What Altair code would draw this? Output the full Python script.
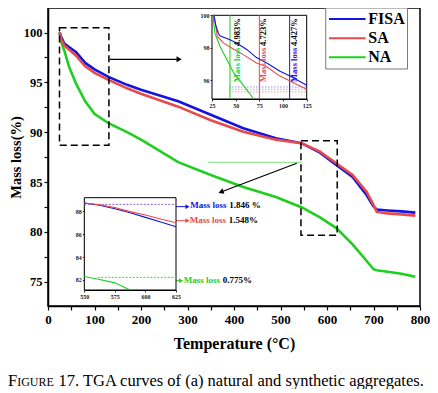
import altair as alt
import pandas as pd

# ---------------- data ----------------
SERIES = ["FISA", "SA", "NA"]
COLORS = ["#1414dc", "#e84a4c", "#1fcf1f"]

T_MAIN = [25, 28, 35, 45, 60, 80, 100, 130, 170, 200, 280, 350, 420, 490, 545,
          585, 620, 655, 685, 700, 707, 730, 760, 790]
FISA_MAIN = [100, 99.6, 98.9, 98.55, 98.05, 96.95, 96.3, 95.55, 94.75, 94.25, 93.1,
             91.75, 90.4, 89.4, 88.9, 87.95, 86.7, 85.5, 83.7, 82.55, 82.25, 82.15,
             82.05, 81.93]
SA_MAIN = [100, 99.4, 98.7, 98.3, 97.7, 96.6, 95.95, 95.25, 94.4, 93.85, 92.56,
           91.2, 90.05, 89.25, 88.9, 88.05, 86.88, 85.7, 84.03, 82.7, 82.0, 81.85,
           81.75, 81.63]
NA_MAIN = [100, 99.1, 98.2, 96.6, 94.9, 93.1, 91.85, 90.9, 90.0, 89.25, 87.0,
           85.7, 84.5, 83.5, 82.47, 81.46, 80.38, 78.75, 77.1, 76.25, 76.15, 76.0,
           75.8, 75.5]

# inset 1 (25-125 C)
IN1_FISA_T = [27, 29, 31.7, 33.4, 44, 51, 61.6, 72, 82.8, 96.8, 107.4, 125]
IN1_FISA_V = [100, 99.4, 98.9, 98.74, 98.5, 98.3, 97.9, 97.4, 97.07, 96.56, 96.26, 95.7]
IN1_SA_T = [27, 29, 30.6, 37, 47.5, 58, 72, 82.8, 96.8, 110.9, 125]
IN1_SA_V = [100, 99.3, 98.7, 98.3, 97.93, 97.58, 97.07, 96.83, 96.26, 95.85, 95.45]
IN1_NA_T = [26, 28, 33.4, 40.5, 47.5, 58, 68.6]
IN1_NA_V = [100, 98.9, 98.1, 97.3, 96.5, 95.7, 94.88]
IN1_MARK_T = [44, 75, 107]            # NA, SA, FISA markers
IN1_LEVELS = [95.59, 95.45, 95.29]
IN1_TEXT_X = [51.4, 78.9, 111.6]
IN1_LOSS = ["4.983%", "4.723%", "4.427%"]

# inset 2 (550-625 C)
IN2_T = [550, 562.5, 575, 587.5, 600, 612.5, 625]
IN2_FISA_V = [88.7, 88.5, 88.2, 87.85, 87.45, 87.05, 86.63]
IN2_SA_V = [88.7, 88.55, 88.3, 87.95, 87.65, 87.3, 86.98]
IN2_NA_T = [550, 562.5, 575, 587]
IN2_NA_V = [82.3, 82.05, 81.75, 81.15]
IN2_LOSS = ["1.846 %", "1.548%", "0.775%"]   # FISA, SA, NA

X_TICKS = list(range(0, 801, 50))
Y_TICKS = [75 + 2.5 * i for i in range(11)]
IN1_X_TICKS = [25, 50, 75, 100, 125]
IN1_Y_TICKS = [96, 98, 100]
IN2_X_TICKS = [550, 575, 600, 625]
IN2_Y_TICKS = [82, 84, 86, 88]

CAPTION_F = "F"
CAPTION_IGURE = "IGURE"
CAPTION_REST = "17. TGA curves of (a) natural and synthetic aggregates."

FONT = "Liberation Serif"
W, H = 372, 298
PAD_L = 40

# ---------------- main scales ----------------
sx = alt.Scale(domain=[0, 800], nice=False, zero=False)
sy = alt.Scale(domain=[72.56, 102.46], nice=False, zero=False)
ax_x = alt.Axis(values=X_TICKS, labelExpr="datum.value % 100 == 0 ? datum.label : ''",
                title="Temperature (°C)", grid=False, orient="bottom",
                labelFont=FONT, labelFontWeight="bold", labelFontSize=13, labelColor="black",
                titleFont=FONT, titleFontWeight="bold", titleFontSize=16, titleColor="black",
                titlePadding=9, tickSize=4, tickColor="black", tickWidth=1.2,
                domainColor="black", domainWidth=1.5, labelPadding=3,
                labelFlush=False, labelOverlap=False)
ax_y = alt.Axis(values=Y_TICKS, labelExpr="datum.value % 5 == 0 ? datum.label : ''",
                title="Mass loss(%)", grid=False, orient="left",
                labelFont=FONT, labelFontWeight="bold", labelFontSize=12.5, labelColor="black",
                titleFont=FONT, titleFontWeight="bold", titleFontSize=14.5, titleColor="black",
                titlePadding=0, tickSize=4, tickColor="black", tickWidth=1.2,
                domainColor="black", domainWidth=1.5, labelPadding=2,
                labelFlush=False, labelOverlap=False)


def MX(f):
    return alt.X(f, type="quantitative", scale=sx, axis=ax_x)


def MY(f):
    return alt.Y(f, type="quantitative", scale=sy, axis=ax_y)


n = len(T_MAIN)
main_long = pd.DataFrame({
    "T": T_MAIN * 3,
    "v": FISA_MAIN + SA_MAIN + NA_MAIN,
    "s": ["FISA"] * n + ["SA"] * n + ["NA"] * n,
})
cmap = dict(zip(SERIES, COLORS))

main_layers = []
for s in ["NA", "FISA", "SA"]:
    main_layers.append(
        alt.Chart(main_long).transform_filter(alt.datum.s == s)
        .mark_line(color=cmap[s], strokeWidth=2.6)
        .encode(x=MX("T"), y=MY("v"))
    )

# dashed zoom boxes
boxes = pd.DataFrame({"x0": [24.7, 544], "x1": [131, 622],
                      "y0": [88.7, 79.66], "y1": [100.48, 89.15]})
main_layers.append(
    alt.Chart(boxes).mark_rect(fillOpacity=0, stroke="black", strokeWidth=1.5,
                               strokeDash=[7, 4])
    .encode(x=MX("x0"), x2="x1", y=MY("y0"), y2="y1")
)

# green guide line
gline = pd.DataFrame({"x0": [343.6], "x1": [545.8], "y": [86.98]})
main_layers.append(
    alt.Chart(gline).mark_rule(color="#7fe07f", strokeWidth=1)
    .encode(x=MX("x0"), x2="x1", y=MY("y"))
)

# black arrows
arrows = pd.DataFrame({"x0": [132.5, 535], "y0": [97.31, 86.88],
                       "x1": [282, 372], "y1": [97.31, 84.0], "ang": [90, 249]})
main_layers.append(
    alt.Chart(arrows).mark_rule(color="black", strokeWidth=1.2)
    .encode(x=MX("x0"), y=MY("y0"), x2="x1", y2="y1")
)
main_layers.append(
    alt.Chart(arrows).mark_point(shape="triangle-up", filled=True, color="black",
                                 size=35, opacity=1)
    .encode(x=MX("x1"), y=MY("y1"), angle=alt.Angle("ang:Q", scale=None))
)

# inset-2 annotation arrows and texts
ann = pd.DataFrame({
    "x0": [260, 267, 242], "x1": [300, 300, 286], "y": [82.53, 81.12, 75.1],
    "xt": [306, 305, 292], "yt": [82.70, 81.19, 75.12],
    "c": [COLORS[0], COLORS[1], COLORS[2]], "num": IN2_LOSS,
})
main_layers.append(
    alt.Chart(ann).mark_rule(strokeWidth=1)
    .encode(x=MX("x0"), x2="x1", y=MY("y"), color=alt.Color("c:N", scale=None))
)
main_layers.append(
    alt.Chart(ann).mark_point(shape="triangle-right", filled=True, size=22, opacity=1)
    .encode(x=MX("x1"), y=MY("y"), color=alt.Color("c:N", scale=None))
)
main_layers.append(
    alt.Chart(ann).mark_text(text="Mass loss", align="left", baseline="middle",
                             font=FONT, fontWeight="bold", fontSize=9)
    .encode(x=MX("xt"), y=MY("yt"), color=alt.Color("c:N", scale=None))
)
main_layers.append(
    alt.Chart(ann).mark_text(align="left", baseline="middle", dx=39, color="black",
                             font=FONT, fontWeight="bold", fontSize=9)
    .encode(x=MX("xt"), y=MY("yt"), text="num:N")
)

# legend (box, line samples, labels)
leg_box = pd.DataFrame({"x0": [597.3], "x1": [773.2], "y0": [96.34], "y1": [102.46]})
leg = pd.DataFrame({"x0": [604.3] * 3, "x1": [683] * 3, "xt": [688.8] * 3,
                    "y": [101.35, 99.42, 97.51], "c": COLORS, "s": SERIES})
main_layers.append(
    alt.Chart(leg_box).mark_rect(fill="white", stroke="#777777", strokeWidth=1)
    .encode(x=MX("x0"), x2="x1", y=MY("y0"), y2="y1")
)
main_layers.append(
    alt.Chart(leg).mark_rule(strokeWidth=2)
    .encode(x=MX("x0"), x2="x1", y=MY("y"), color=alt.Color("c:N", scale=None))
)
main_layers.append(
    alt.Chart(leg).mark_text(align="left", baseline="middle", color="black",
                             font=FONT, fontWeight="bold", fontSize=16)
    .encode(x=MX("xt"), y=MY("y"), text="s:N")
)

# caption (small caps "FIGURE")
cap = pd.DataFrame({"a": [CAPTION_F], "b": [CAPTION_IGURE], "c": [CAPTION_REST]})
main_layers.append(
    alt.Chart(cap).mark_text(align="left", baseline="alphabetic", font=FONT,
                             fontSize=16.5, color="black")
    .encode(x=alt.value(-40), y=alt.value(378), text="a:N")
)
main_layers.append(
    alt.Chart(cap).mark_text(align="left", baseline="alphabetic", font=FONT,
                             fontSize=12, color="black")
    .encode(x=alt.value(-30.8), y=alt.value(378), text="b:N")
)
main_layers.append(
    alt.Chart(cap).mark_text(align="left", baseline="alphabetic", font=FONT,
                             fontSize=16.5, color="black")
    .encode(x=alt.value(10.5), y=alt.value(378), text="c:N")
)

main = alt.layer(*main_layers)


# ---------------- insets ----------------
def inset_axis(orient, offset, values):
    return alt.Axis(orient=orient, offset=offset, values=values, title=None, grid=False,
                    labelFont=FONT, labelFontWeight="bold", labelFontSize=6,
                    labelColor="#222222", tickSize=2, tickColor="black", tickWidth=0.8,
                    domainColor="black", domainWidth=1, labelPadding=1,
                    labelFlush=False, labelOverlap=False)


# inset 1
s1x = alt.Scale(domain=[25, 125], range=[164, 258.7], nice=False, zero=False)
s1y = alt.Scale(domain=[94.85, 100], range=[91, 7.3], nice=False, zero=False)
a1x = inset_axis("bottom", -(H - 91), IN1_X_TICKS)
a1y = inset_axis("left", -164, IN1_Y_TICKS)


def X1(f):
    return alt.X(f, type="quantitative", scale=s1x, axis=a1x)


def Y1(f):
    return alt.Y(f, type="quantitative", scale=s1y, axis=a1y)


in1 = []
frame1 = pd.DataFrame({"x0": [25], "x1": [125], "y0": [94.85], "y1": [100]})
in1.append(alt.Chart(frame1).mark_rect(fill="white", stroke="black", strokeWidth=1)
           .encode(x=X1("x0"), x2="x1", y=Y1("y0"), y2="y1"))
lev1 = pd.DataFrame({"x0": [43] * 3, "x1": [125] * 3, "y": IN1_LEVELS,
                     "c": ["#8f8fe6", "#b9a6d9", "#ea9a9a"]})
in1.append(alt.Chart(lev1).mark_rule(strokeWidth=1, strokeDash=[1.5, 1.5])
           .encode(x=X1("x0"), x2="x1", y=Y1("y"), color=alt.Color("c:N", scale=None)))
marks1 = pd.DataFrame({"x": IN1_MARK_T, "y0": [94.85] * 3, "y1": [100] * 3,
                       "c": [COLORS[2], COLORS[1], COLORS[0]],
                       "xt": IN1_TEXT_X, "yt": [95.9] * 3, "num": IN1_LOSS})
in1.append(alt.Chart(marks1).mark_rule(strokeWidth=1)
           .encode(x=X1("x"), y=Y1("y0"), y2="y1", color=alt.Color("c:N", scale=None)))
for tt, vv, c in [(IN1_NA_T, IN1_NA_V, COLORS[2]), (IN1_SA_T, IN1_SA_V, COLORS[1]),
                  (IN1_FISA_T, IN1_FISA_V, COLORS[0])]:
    d = pd.DataFrame({"T": tt, "v": vv})
    in1.append(alt.Chart(d).mark_line(color=c, strokeWidth=1.1)
               .encode(x=X1("T"), y=Y1("v")))
in1.append(alt.Chart(marks1).mark_text(text="Mass loss", angle=270, align="left",
                                       baseline="middle", font=FONT, fontWeight="bold",
                                       fontSize=8.5)
           .encode(x=X1("xt"), y=Y1("yt"), color=alt.Color("c:N", scale=None)))
in1.append(alt.Chart(marks1).mark_text(angle=270, align="left", baseline="middle",
                                       dx=36, color="black", font=FONT,
                                       fontWeight="bold", fontSize=8.5)
           .encode(x=X1("xt"), y=Y1("yt"), text="num:N"))
inset1 = alt.layer(*in1)

# inset 2
s2x = alt.Scale(domain=[550, 625], range=[36.3, 128], nice=False, zero=False)
s2y = alt.Scale(domain=[81.13, 89.16], range=[282, 189.7], nice=False, zero=False)
a2x = inset_axis("bottom", -(H - 282), IN2_X_TICKS)
a2y = inset_axis("left", -36.3, IN2_Y_TICKS)


def X2(f):
    return alt.X(f, type="quantitative", scale=s2x, axis=a2x)


def Y2(f):
    return alt.Y(f, type="quantitative", scale=s2y, axis=a2y)


in2 = []
frame2 = pd.DataFrame({"x0": [550], "x1": [625], "y0": [81.13], "y1": [89.16]})
in2.append(alt.Chart(frame2).mark_rect(fill="white", stroke="black", strokeWidth=1)
           .encode(x=X2("x0"), x2="x1", y=Y2("y0"), y2="y1"))
lev2 = pd.DataFrame({"x0": [550, 561], "x1": [625, 625], "y": [88.58, 82.23],
                     "c": ["#8a5fbf", "#3fd43f"]})
in2.append(alt.Chart(lev2).mark_rule(strokeWidth=1, strokeDash=[2, 1.5])
           .encode(x=X2("x0"), x2="x1", y=Y2("y"), color=alt.Color("c:N", scale=None)))
for tt, vv, c in [(IN2_NA_T, IN2_NA_V, COLORS[2]), (IN2_T, IN2_FISA_V, COLORS[0]),
                  (IN2_T, IN2_SA_V, COLORS[1])]:
    d = pd.DataFrame({"T": tt, "v": vv})
    in2.append(alt.Chart(d).mark_line(color=c, strokeWidth=1.1)
               .encode(x=X2("T"), y=Y2("v")))
inset2 = alt.layer(*in2)

chart = (
    alt.layer(main, inset1, inset2)
    .resolve_scale(x="independent", y="independent")
    .properties(width=W, height=H,
                autosize=alt.AutoSizeParams(type="none"),
                padding={"left": PAD_L, "top": 0, "right": 10, "bottom": 83})
    .configure_view(stroke="black", strokeWidth=1.5)
)

chart.save("out.html", embed_options={"renderer": "svg", "actions": False})
